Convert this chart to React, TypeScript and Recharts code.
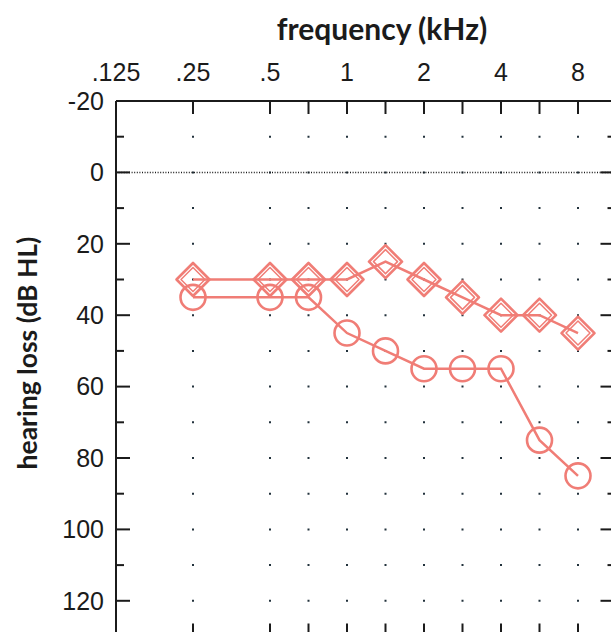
import { LineChart, Line, XAxis, YAxis, CartesianGrid, ReferenceLine } from "recharts";

// audiogram values (dB HL)
const freqKHz = [0.25, 0.5, 0.75, 1, 1.5, 2, 3, 4, 6, 8];
const diamondDb = [30, 30, 30, 30, 25, 30, 35, 40, 40, 45];
const circleDb = [35, 35, 35, 45, 50, 55, 55, 55, 75, 85];

const labelFreqs = [0.125, 0.25, 0.5, 1, 2, 4, 8];
const labelTexts = [".125", ".25", ".5", "1", "2", "4", "8"];
const yMajor = [-20, 0, 20, 40, 60, 80, 100, 120];
const yMinor = [-10, 10, 30, 50, 70, 90, 110, 130];

// audiograms put 750/1500/3000/6000 Hz on the half-octave
const octPos = (f: number) => Math.round(2 * Math.log2(f)) / 2;

const data = freqKHz.map((f, i) => ({ pos: octPos(f), diamond: diamondDb[i], circle: circleDb[i] }));
const colTicks = freqKHz.map(octPos);
const labTicks = labelFreqs.map(octPos);
const topTicks = Array.from(new Set([...labTicks, ...colTicks])).sort((a, b) => a - b);
const yAll = [...yMajor, ...yMinor].sort((a, b) => a - b);

const PINK = "#f07d76";
const INK = "#1b1b1b";
const X_DOMAIN = [-3, 3.5];
const Y_DOMAIN = [-20, 130];
const TICK_MARGIN = 12;
const W = 628;
const H = 648;

const DiamondDot = (props: any) => {
  const { cx, cy } = props;
  if (cx == null || cy == null) return null;
  const d = (r: number) => `M${cx},${cy - r}L${cx + r},${cy}L${cx},${cy + r}L${cx - r},${cy}Z`;
  return (
    <g>
      <path d={d(16.5)} fill="none" stroke={PINK} strokeWidth={2.6} strokeLinejoin="round" />
      <path d={d(12)} fill="none" stroke={PINK} strokeWidth={1.5} strokeLinejoin="round" />
    </g>
  );
};

const CircleDot = (props: any) => {
  const { cx, cy } = props;
  if (cx == null || cy == null) return null;
  return <circle cx={cx} cy={cy} r={12.5} fill="none" stroke={PINK} strokeWidth={2.6} />;
};

const labStyle = { fontFamily: "'Liberation Sans', Arial, sans-serif", fontSize: 25, fill: INK };

const LeftTick = (props: any) => {
  const { x, y, payload } = props;
  const v = payload.value;
  const major = yMajor.includes(v);
  const edge = x + TICK_MARGIN;
  return (
    <g>
      <line x1={edge} y1={y} x2={edge + (major ? 14 : 8)} y2={y} stroke={INK} strokeWidth={2} />
      {major && (
        <text x={x} y={y} dy="0.355em" textAnchor="end" {...labStyle}>
          {v}
        </text>
      )}
    </g>
  );
};

const TopTick = (props: any) => {
  const { x, y, payload } = props;
  const v = payload.value;
  const li = labTicks.indexOf(v);
  const edge = y + 20;
  return (
    <g>
      {colTicks.includes(v) && <line x1={x} y1={edge} x2={x} y2={edge + 13} stroke={INK} strokeWidth={2} />}
      {li >= 0 && (
        <text x={x} y={y} textAnchor="middle" {...labStyle}>
          {labelTexts[li]}
        </text>
      )}
    </g>
  );
};

const RightTick = (props: any) => {
  const { x, y, payload } = props;
  const major = yMajor.includes(payload.value);
  return <line x1={x - (major ? 16 : 9)} y1={y} x2={x} y2={y} stroke={INK} strokeWidth={2} />;
};

const BottomTick = (props: any) => {
  const { x, y } = props;
  return <line x1={x} y1={y - 13} x2={x} y2={y} stroke={INK} strokeWidth={2} />;
};

export default function App() {
  return (
    <div style={{ position: "fixed", left: 0, top: 0, width: 611, height: 632, overflow: "hidden", background: "#fff" }}>
      <div
        style={{
          position: "absolute",
          left: 382 - 150,
          top: 10,
          width: 300,
          textAlign: "center",
          fontFamily: "Lato, 'Open Sans', sans-serif",
          fontWeight: 700,
          fontSize: 30,
          color: INK,
        }}
      >
        frequency (kHz)
      </div>
      <div
        style={{
          position: "absolute",
          left: 27 - 150,
          top: 353 - 18,
          width: 300,
          height: 36,
          lineHeight: "36px",
          textAlign: "center",
          transform: "rotate(-90deg)",
          fontFamily: "Lato, 'Open Sans', sans-serif",
          fontWeight: 700,
          fontSize: 26.5,
          color: INK,
        }}
      >
        hearing loss (dB HL)
      </div>
      <div style={{ position: "absolute", left: 0, top: 0, width: W, height: H }}>
        <LineChart width={W} height={H} data={data} margin={{ top: 61, right: 0, bottom: 0, left: 56 }}>
          <XAxis
            xAxisId="top"
            orientation="top"
            dataKey="pos"
            type="number"
            domain={X_DOMAIN}
            allowDataOverflow
            ticks={topTicks}
            interval={0}
            height={40}
            tickSize={0}
            tickMargin={20}
            axisLine={{ stroke: INK, strokeWidth: 2 }}
            tickLine={false}
            tick={<TopTick />}
          />
          <XAxis
            xAxisId="bot"
            orientation="bottom"
            dataKey="pos"
            type="number"
            domain={X_DOMAIN}
            allowDataOverflow
            ticks={colTicks}
            interval={0}
            height={11.5}
            tickSize={0}
            tickMargin={0}
            axisLine={{ stroke: INK, strokeWidth: 2 }}
            tickLine={false}
            tick={<BottomTick />}
          />
          <YAxis
            yAxisId="left"
            type="number"
            domain={Y_DOMAIN}
            reversed
            allowDataOverflow
            ticks={yAll}
            interval={0}
            width={60}
            tickSize={0}
            tickMargin={TICK_MARGIN}
            axisLine={{ stroke: INK, strokeWidth: 2 }}
            tickLine={false}
            tick={<LeftTick />}
          />
          <YAxis
            yAxisId="right"
            orientation="right"
            type="number"
            domain={Y_DOMAIN}
            reversed
            allowDataOverflow
            ticks={yAll}
            interval={0}
            width={11.5}
            tickSize={0}
            tickMargin={0}
            axisLine={false}
            tickLine={false}
            tick={<RightTick />}
          />
          <CartesianGrid
            xAxisId="bot"
            yAxisId="left"
            horizontal={false}
            stroke="#22323c"
            strokeWidth={2}
            strokeDasharray="1 33.7 1 0"
          />
          <ReferenceLine xAxisId="top" yAxisId="left" y={0} stroke={INK} strokeWidth={1.5} strokeDasharray="1 1.6" />
          <Line
            xAxisId="top"
            yAxisId="left"
            dataKey="circle"
            stroke={PINK}
            strokeWidth={2.5}
            dot={<CircleDot />}
            activeDot={false}
            isAnimationActive={false}
          />
          <Line
            xAxisId="top"
            yAxisId="left"
            dataKey="diamond"
            stroke={PINK}
            strokeWidth={2.5}
            dot={<DiamondDot />}
            activeDot={false}
            isAnimationActive={false}
          />
        </LineChart>
      </div>
    </div>
  );
}
